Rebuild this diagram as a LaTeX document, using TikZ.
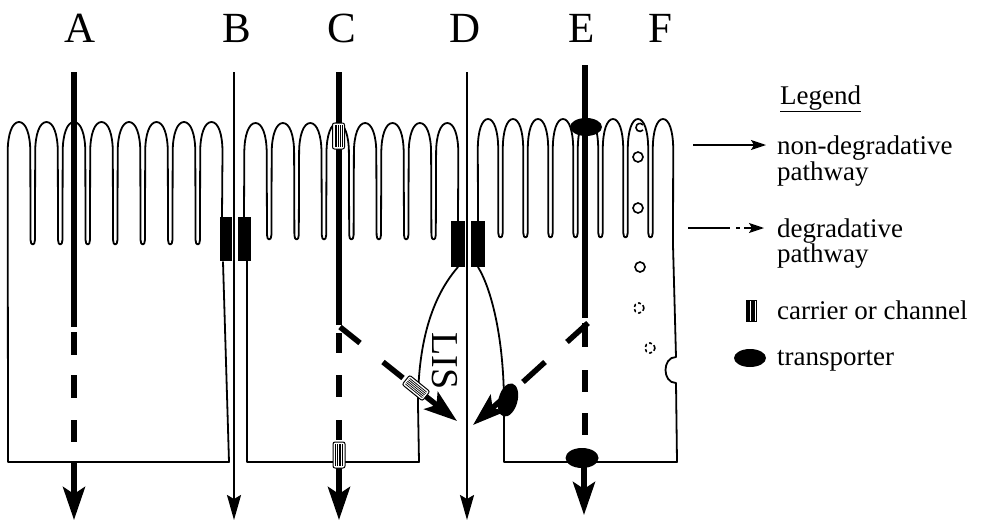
\documentclass[tikz,border=0pt]{standalone}
\usepackage{fontspec}
\setmainfont{Liberation Serif}
\usetikzlibrary{arrows.meta}
\begin{document}
\begin{tikzpicture}[x=1pt,y=-1pt,
  membrane/.style={line width=1.8pt, line join=round, line cap=round},
  thickroute/.style={line width=5.5pt},
  thinroute/.style={line width=2.2pt},
  bigtip/.style={-{Stealth[length=33pt,width=22pt,inset=7pt]}},
  smalltip/.style={-{Stealth[length=25pt,width=14pt,inset=4pt]}},
  legtip/.style={-{Stealth[length=15pt,width=10pt,inset=3pt]}},
  letter/.style={font=\fontsize{43}{43}\selectfont, anchor=base, inner sep=0pt},
  legtext/.style={font=\fontsize{27}{27}\selectfont, anchor=base west, inner sep=0pt},
  vesicle/.style={line width=1.6pt},
  carrier/.pic={
    \draw[line width=1pt, fill=white, rounded corners=2pt] (-6,-13) rectangle (6,13);
    \foreach \s in {-3.5,-1.75,0,1.75,3.5} \draw[line width=0.7pt] (\s,-11) -- (\s,11);
  }
]
\useasboundingbox[fill=white] (0,0) rectangle (984,522);

% ---- route labels
\node[letter] (labA) at (80,42) {A};
\node[letter] (labB) at (237,42) {B};
\node[letter] (labC) at (342,42) {C};
\node[letter] (labD) at (465,42) {D};
\node[letter] (labE) at (582,42) {E};
\node[letter] (labF) at (660,42) {F};

% ---- cell 1 (left)
\draw[membrane] (223,262) -- (229,462) -- (8,462)
  \foreach \k [evaluate=\k as \p using 19+\k*27.5] in {0,...,6} {
    -- (\p-11.3,152) .. controls (\p-11.3,134) and (\p-6.8,122) .. (\p,122)
    .. controls (\p+6.8,122) and (\p+11.3,134) .. (\p+11.3,152)
    -- (\p+11.55,240) .. controls (\p+11.55,246) and (\p+15.95,246) .. (\p+15.95,240)
  }
  -- (200.2,152) .. controls (200.2,134) and (204.7,122) .. (211.5,122)
  .. controls (218.3,122) and (222.5,134) .. (222.5,152) -- (222,217);

% ---- cell 2 (middle)
\draw[membrane] (247,262) -- (244,217)
  \foreach \k [evaluate=\k as \p using 255.5+\k*27.4] in {0,...,6} {
    -- (\p-11.2,153) .. controls (\p-11.2,135) and (\p-6.7,123) .. (\p,123)
    .. controls (\p+6.7,123) and (\p+11.2,135) .. (\p+11.2,153)
    -- (\p+11.5,235) .. controls (\p+11.5,241) and (\p+15.9,241) .. (\p+15.9,235)
  }
  -- (436.1,153) .. controls (436.1,135) and (440.6,123) .. (447.3,123)
  .. controls (454,123) and (458.3,135) .. (458.3,153) -- (458,221);
\draw[membrane] (458,267) .. controls (438,290) and (418,330) .. (418,405)
  -- (419,462) -- (247,462) -- (247,262);

% ---- cell 3 (right)
\draw[membrane] (478,221)
  \foreach \k [evaluate=\k as \p using 488+\k*25] in {0,...,6} {
    -- (\p-10.2,149) .. controls (\p-10.2,131) and (\p-6.1,119) .. (\p,119)
    .. controls (\p+6.1,119) and (\p+10.2,131) .. (\p+10.2,149)
    -- (\p+10.3,233) .. controls (\p+10.3,239) and (\p+14.7,239) .. (\p+14.7,233)
  }
  -- (652.8,149) .. controls (652.8,131) and (656.9,119) .. (663,119)
  .. controls (669.1,119) and (673.2,131) .. (673.2,149) -- (673,245) -- (676,357)
  .. controls (662,357) and (662,383) .. (676,383) -- (677,462) -- (504,462) -- (504,405)
  .. controls (504,340) and (492,290) .. (478,267);

% ---- tight junctions
\fill (220,217) rectangle (232,261);
\fill (238,217) rectangle (251,261);
\fill (451,221) rectangle (465,267);
\fill (471,221) rectangle (485,267);

% ---- LIS label
\node[font=\fontsize{38}{38}\selectfont, rotate=-90, inner sep=0pt] (lis) at (445,361) {LIS};

% ---- route A
\coordinate (Atop) at (74,72);
\coordinate (Abr) at (74,327);
\draw[thickroute] (Atop) -- (Abr);
\draw[thickroute] (74,332) -- (74,355) (74,375) -- (74,398) (74,420) -- (74,442);
\coordinate (Aout) at (74,463);
\coordinate (Atip) at (74,520);
\draw[thickroute, bigtip] (Aout) -- (Atip);

% ---- route B
\coordinate (Btop) at (234,72);
\coordinate (Btip) at (234,520);
\draw[thinroute, smalltip] (Btop) -- (Btip);

% ---- route C
\coordinate (Ctop) at (339,72);
\coordinate (Cbr) at (339,325);
\draw[thickroute] (Ctop) -- (Cbr);
\draw[thickroute] (340,327) -- (360,343) (383,362) -- (403,378);
\coordinate (Cdiag) at (424,395);
\coordinate (Ctip2) at (457,421);
\draw[thickroute, bigtip] (Cdiag) -- (Ctip2);
\pic[rotate=51] at (416,388) {carrier};
\draw[thickroute] (339,333) -- (339,353) (339,375) -- (339,397) (339,420) -- (339,440);
\coordinate (Cout) at (339,466);
\coordinate (Ctip) at (339,520);
\draw[thickroute, bigtip] (Cout) -- (Ctip);
\pic at (339,455) {carrier};
\pic at (338.5,136) {carrier};

% ---- route D
\coordinate (Dtop) at (467,72);
\coordinate (Dtip) at (467,520);
\draw[thinroute, smalltip] (Dtop) -- (Dtip);

% ---- route E
\coordinate (Etop) at (585,65);
\coordinate (Ebr) at (585,318);
\draw[line width=6.5pt] (Etop) -- (Ebr);
\draw[thickroute] (588,323) -- (567,342) (545,362) -- (523,382);
\coordinate (Ediag) at (507,395);
\coordinate (Etip2) at (473,425);
\draw[thickroute, bigtip] (Ediag) -- (Etip2);
\fill[rotate around={-15:(508,400)}] (508,400) ellipse [x radius=9.5, y radius=17];
\draw[line width=6.5pt] (585,323) -- (585,347) (585,370) -- (585,392) (585,413) -- (585,435);
\coordinate (Eout) at (584,466);
\coordinate (Etip) at (584,515);
\draw[thickroute, bigtip] (Eout) -- (Etip);
\fill (582,458) ellipse [x radius=16.5, y radius=10];
\fill (586,127) ellipse [x radius=16, y radius=9];

% ---- route F: apical pit and vesicles
\draw[vesicle] (643,130) arc[start angle=40, end angle=320, radius=4];
\draw[vesicle] (638,157) circle[radius=5];
\draw[vesicle] (638,208) circle[radius=5];
\draw[vesicle] (640,267) circle[radius=5];
\draw[vesicle, dash pattern=on 3pt off 2.5pt] (639,308) circle[radius=5];
\draw[vesicle, dash pattern=on 3pt off 2.5pt] (650,348) circle[radius=5];

% ---- legend
\node[legtext] (legtitle) at (780,104) {\underline{Legend}};
\coordinate (l1a) at (693,145);
\coordinate (l1b) at (766,145);
\draw[line width=1.5pt, legtip] (l1a) -- (l1b);
\node[legtext] (leg1) at (777,154) {non-degradative};
\node[legtext] (leg1b) at (777,180) {pathway};
\coordinate (l2a) at (688,228);
\coordinate (l2b) at (730,228);
\draw[line width=1.5pt] (l2a) -- (l2b) (736,228) -- (740,228);
\coordinate (l2c) at (744,228);
\coordinate (l2d) at (764,228);
\draw[line width=1.5pt, legtip] (l2c) -- (l2d);
\node[legtext] (leg2) at (777,237) {degradative};
\node[legtext] (leg2b) at (777,262) {pathway};
\draw[line width=0.8pt] (746,300) rectangle (756,321);
\foreach \s in {747.2,748.4,...,755} \draw[line width=0.55pt] (\s,300) -- (\s,321);
\node[legtext] (leg3) at (777,319) {carrier or channel};
\fill (750,358) ellipse [x radius=16, y radius=9];
\node[legtext] (leg4) at (777,365) {transporter};
\end{tikzpicture}
\end{document}
